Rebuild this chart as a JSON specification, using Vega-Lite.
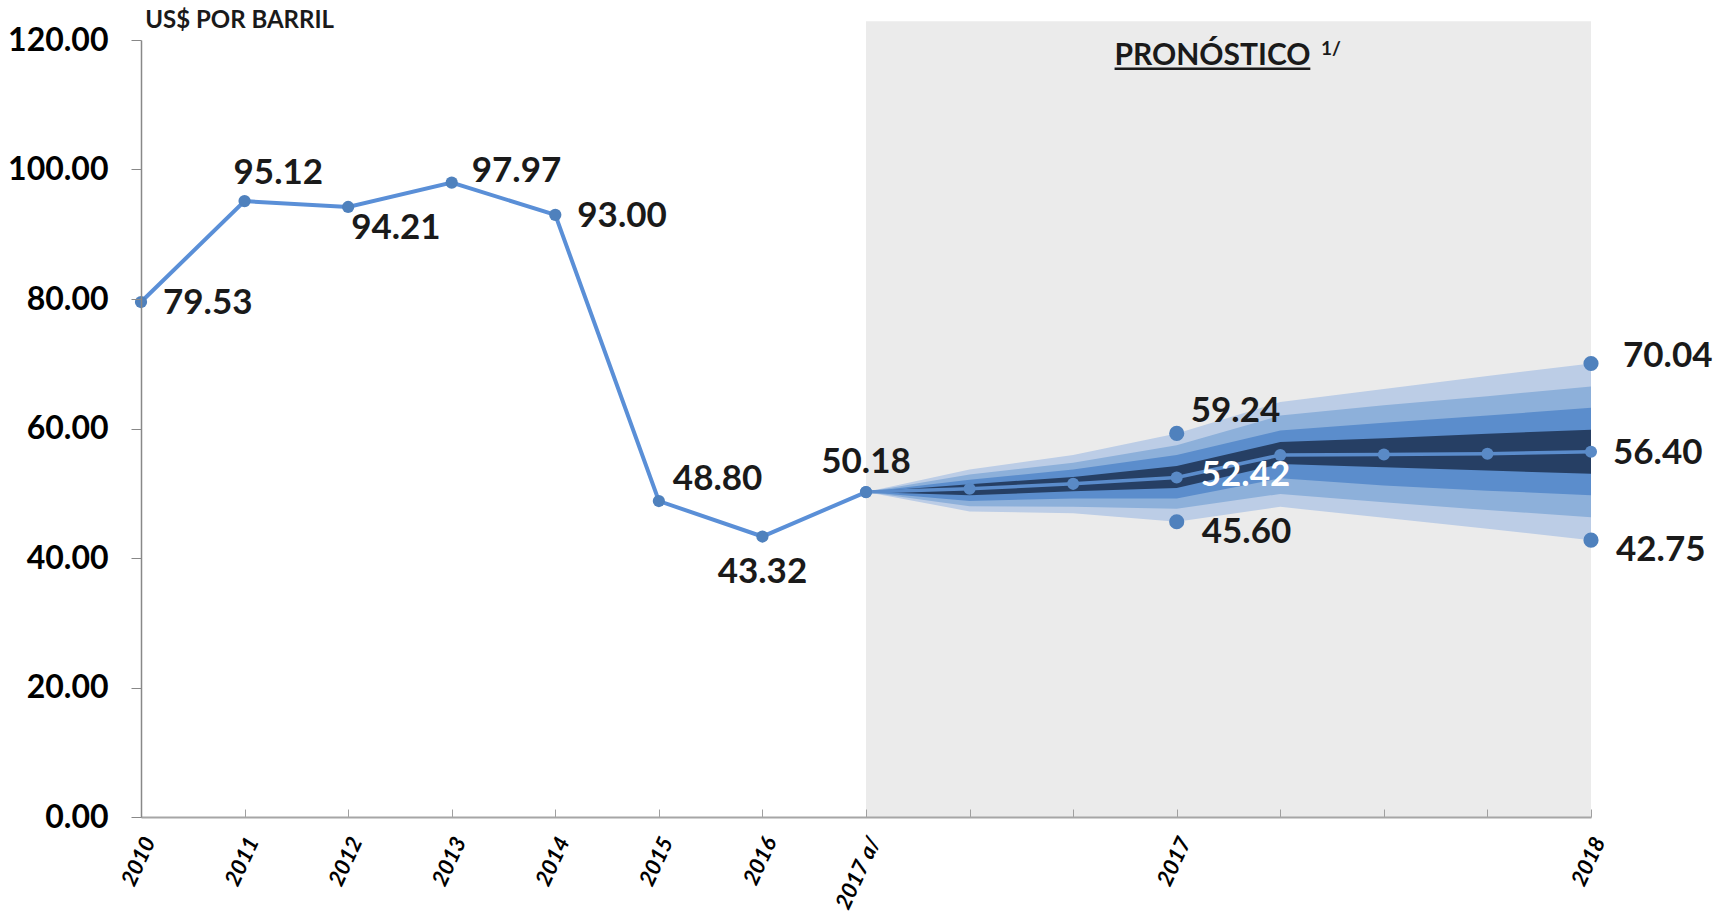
{
  "$schema": "https://vega.github.io/schema/vega-lite/v6.json",
  "width": 1450,
  "height": 777,
  "autosize": {"type": "none"},
  "padding": {"left": 141, "top": 40, "right": 142, "bottom": 97},
  "background": "#ffffff",
  "config": {"view": {"stroke": null}, "font": "Lato"},
  "datasets": {
    "hist": [
      {"i": 0, "v": 79.53}, {"i": 1, "v": 95.12}, {"i": 2, "v": 94.21}, {"i": 3, "v": 97.97},
      {"i": 4, "v": 93.00}, {"i": 5, "v": 48.80}, {"i": 6, "v": 43.32}, {"i": 7, "v": 50.18}
    ],
    "center": [
      {"i": 7, "v": 50.18}, {"i": 8, "v": 50.7}, {"i": 9, "v": 51.45}, {"i": 10, "v": 52.42},
      {"i": 11, "v": 55.9}, {"i": 12, "v": 56.0}, {"i": 13, "v": 56.1}, {"i": 14, "v": 56.40}
    ],
    "fan": [
      {"i": 7, "b4_lo": 50.18, "b4_hi": 50.18, "b3_lo": 50.18, "b3_hi": 50.18, "b2_lo": 50.18, "b2_hi": 50.18, "b1_lo": 50.18, "b1_hi": 50.18},
      {"i": 8, "b4_lo": 47.2, "b4_hi": 53.65, "b3_lo": 48.0, "b3_hi": 52.9, "b2_lo": 48.8, "b2_hi": 52.1, "b1_lo": 49.7, "b1_hi": 51.4},
      {"i": 9, "b4_lo": 46.9, "b4_hi": 55.9, "b3_lo": 47.9, "b3_hi": 54.7, "b2_lo": 49.2, "b2_hi": 53.65, "b1_lo": 50.3, "b1_hi": 52.5},
      {"i": 10, "b4_lo": 45.6, "b4_hi": 59.24, "b3_lo": 47.6, "b3_hi": 57.4, "b2_lo": 49.2, "b2_hi": 55.9, "b1_lo": 50.8, "b1_hi": 54.2},
      {"i": 11, "b4_lo": 47.9, "b4_hi": 64.1, "b3_lo": 49.9, "b3_hi": 62.0, "b2_lo": 52.3, "b2_hi": 59.7, "b1_lo": 54.5, "b1_hi": 57.9},
      {"i": 12, "b4_lo": 46.2, "b4_hi": 66.1, "b3_lo": 48.6, "b3_hi": 63.6, "b2_lo": 51.2, "b2_hi": 60.9, "b1_lo": 54.0, "b1_hi": 58.5},
      {"i": 13, "b4_lo": 44.5, "b4_hi": 68.1, "b3_lo": 47.4, "b3_hi": 65.0, "b2_lo": 50.4, "b2_hi": 62.0, "b1_lo": 53.5, "b1_hi": 59.2},
      {"i": 14, "b4_lo": 42.75, "b4_hi": 70.04, "b3_lo": 46.3, "b3_hi": 66.5, "b2_lo": 49.7, "b2_hi": 63.2, "b1_lo": 53.0, "b1_hi": 59.8}
    ],
    "labels": [
      {"id": "2010", "i": 0, "v": 79.53}, {"id": "2011", "i": 1, "v": 95.12}, {"id": "2012", "i": 2, "v": 94.21},
      {"id": "2013", "i": 3, "v": 97.97}, {"id": "2014", "i": 4, "v": 93.00}, {"id": "2015", "i": 5, "v": 48.80},
      {"id": "2016", "i": 6, "v": 43.32}, {"id": "2017a", "i": 7, "v": 50.18},
      {"id": "17hi", "i": 10, "v": 59.24}, {"id": "17mid", "i": 10, "v": 52.42}, {"id": "17lo", "i": 10, "v": 45.60},
      {"id": "18hi", "i": 14, "v": 70.04}, {"id": "18mid", "i": 14, "v": 56.40}, {"id": "18lo", "i": 14, "v": 42.75}
    ],
    "notes": [
      {"t": "PRONÓSTICO", "i": 10.345, "v": 116.2},
      {"t": "1/", "i": 11.49, "v": 118.6},
      {"t": "US$ POR BARRIL", "i": 0.04, "v": 121.8}
    ]
  },
  "layer": [
    {
      "data": {"name": "notes"},
      "transform": [{"filter": "datum.t == 'PRONÓSTICO'"}],
      "mark": {"type": "rect", "color": "#ebebeb"},
      "encoding": {
        "x": {"datum": 7, "type": "quantitative", "title": null},
        "x2": {"datum": 14},
        "y": {"datum": 0, "type": "quantitative", "title": null},
        "y2": {"datum": 122.9}
      }
    },
    {
      "data": {"name": "fan"},
      "mark": {"type": "area", "color": "#bccde6", "opacity": 1},
      "encoding": {
        "x": {"field": "i", "type": "quantitative", "title": null},
        "y": {"field": "b4_lo", "type": "quantitative", "title": null}, "y2": {"field": "b4_hi"}
      }
    },
    {
      "data": {"name": "fan"},
      "mark": {"type": "area", "color": "#8db0da", "opacity": 1},
      "encoding": {
        "x": {"field": "i", "type": "quantitative", "title": null},
        "y": {"field": "b3_lo", "type": "quantitative", "title": null}, "y2": {"field": "b3_hi"}
      }
    },
    {
      "data": {"name": "fan"},
      "mark": {"type": "area", "color": "#5b8dcc", "opacity": 1},
      "encoding": {
        "x": {"field": "i", "type": "quantitative", "title": null},
        "y": {"field": "b2_lo", "type": "quantitative", "title": null}, "y2": {"field": "b2_hi"}
      }
    },
    {
      "data": {"name": "fan"},
      "mark": {"type": "area", "color": "#263f64", "opacity": 1},
      "encoding": {
        "x": {"field": "i", "type": "quantitative", "title": null},
        "y": {"field": "b1_lo", "type": "quantitative", "title": null}, "y2": {"field": "b1_hi"}
      }
    },
    {
      "data": {"name": "center"},
      "mark": {"type": "line", "color": "#5b8ccb", "strokeWidth": 3.5},
      "encoding": {
        "x": {"field": "i", "type": "quantitative", "title": null},
        "y": {"field": "v", "type": "quantitative", "title": null}
      }
    },
    {
      "data": {"name": "center"},
      "mark": {"type": "circle", "color": "#5a8ac6", "size": 145, "opacity": 1},
      "encoding": {
        "x": {"field": "i", "type": "quantitative", "title": null},
        "y": {"field": "v", "type": "quantitative", "title": null}
      }
    },
    {
      "data": {"name": "hist"},
      "mark": {"type": "line", "color": "#5a8fd7", "strokeWidth": 4},
      "encoding": {
        "x": {
          "field": "i", "type": "quantitative",
          "scale": {"domain": [0, 14], "nice": false, "zero": false},
          "axis": {
            "title": null, "values": [0, 1, 2, 3, 4, 5, 6, 7, 8, 9, 10, 11, 12, 13, 14],
            "labelExpr": "datum.value == 0 ? '2010' : datum.value == 1 ? '2011' : datum.value == 2 ? '2012' : datum.value == 3 ? '2013' : datum.value == 4 ? '2014' : datum.value == 5 ? '2015' : datum.value == 6 ? '2016' : datum.value == 7 ? '2017 a/' : datum.value == 10 ? '2017' : datum.value == 14 ? '2018' : ''",
            "grid": false, "zindex": 1,
            "tickSize": -8, "tickColor": "#a0a0a0", "tickWidth": 1,
            "domainColor": "#a6a6a6", "domainWidth": 2,
            "labelAngle": -65, "labelAlign": "right", "labelBaseline": "middle",
            "labelFont": "Lato", "labelFontSize": 22, "labelFontWeight": "bold", "labelFontStyle": "italic",
            "labelColor": "#000000", "labelPadding": 29, "labelOffset": 8,
            "labelOverlap": false, "labelFlush": false, "labelBound": false
          }
        },
        "y": {
          "field": "v", "type": "quantitative",
          "scale": {"domain": [0, 120], "nice": false},
          "axis": {
            "title": null, "values": [0, 20, 40, 60, 80, 100, 120], "format": ".2f",
            "grid": false, "zindex": 1,
            "tickSize": 10, "tickColor": "#888888", "domainColor": "#888888", "domainWidth": 1.5,
            "labelFont": "Lato", "labelFontSize": 32, "labelFontWeight": "bold", "labelColor": "#000000",
            "labelPadding": 23
          }
        }
      }
    },
    {
      "data": {"name": "hist"},
      "mark": {"type": "circle", "color": "#4f81bd", "size": 150, "opacity": 1},
      "encoding": {
        "x": {"field": "i", "type": "quantitative", "title": null},
        "y": {"field": "v", "type": "quantitative", "title": null}
      }
    },
    {
      "data": {"name": "labels"},
      "transform": [{"filter": {"field": "id", "oneOf": ["17hi", "17lo", "18hi", "18lo"]}}],
      "mark": {"type": "circle", "color": "#4f81bd", "size": 230, "opacity": 1},
      "encoding": {
        "x": {"field": "i", "type": "quantitative", "title": null},
        "y": {"field": "v", "type": "quantitative", "title": null}
      }
    },
    {
      "data": {"name": "labels"},
      "transform": [{"filter": {"field": "id", "oneOf": ["2010", "2014", "18mid"]}}],
      "mark": {"type": "text", "align": "left", "baseline": "middle", "dx": 22, "dy": 1, "font": "Lato", "fontSize": 35, "fontWeight": "bold", "color": "#1a1a1a"},
      "encoding": {
        "x": {"field": "i", "type": "quantitative", "title": null},
        "y": {"field": "v", "type": "quantitative", "title": null},
        "text": {"field": "v", "type": "quantitative", "format": ".2f"}
      }
    },
    {
      "data": {"name": "labels"},
      "transform": [{"filter": {"field": "id", "oneOf": ["17mid"]}}],
      "mark": {"type": "text", "align": "left", "baseline": "middle", "dx": 24, "dy": -3, "font": "Lato", "fontSize": 35, "fontWeight": "bold", "color": "#ffffff"},
      "encoding": {
        "x": {"field": "i", "type": "quantitative", "title": null},
        "y": {"field": "v", "type": "quantitative", "title": null},
        "text": {"field": "v", "type": "quantitative", "format": ".2f"}
      }
    },
    {
      "data": {"name": "labels"},
      "transform": [{"filter": {"field": "id", "oneOf": ["17lo", "18lo"]}}],
      "mark": {"type": "text", "align": "left", "baseline": "middle", "dx": 25, "dy": 10, "font": "Lato", "fontSize": 35, "fontWeight": "bold", "color": "#1a1a1a"},
      "encoding": {
        "x": {"field": "i", "type": "quantitative", "title": null},
        "y": {"field": "v", "type": "quantitative", "title": null},
        "text": {"field": "v", "type": "quantitative", "format": ".2f"}
      }
    },
    {
      "data": {"name": "labels"},
      "transform": [{"filter": {"field": "id", "oneOf": ["2013"]}}],
      "mark": {"type": "text", "align": "left", "baseline": "middle", "dx": 20, "dy": -12, "font": "Lato", "fontSize": 35, "fontWeight": "bold", "color": "#1a1a1a"},
      "encoding": {
        "x": {"field": "i", "type": "quantitative", "title": null},
        "y": {"field": "v", "type": "quantitative", "title": null},
        "text": {"field": "v", "type": "quantitative", "format": ".2f"}
      }
    },
    {
      "data": {"name": "labels"},
      "transform": [{"filter": {"field": "id", "oneOf": ["18hi"]}}],
      "mark": {"type": "text", "align": "left", "baseline": "middle", "dx": 32, "dy": -7, "font": "Lato", "fontSize": 35, "fontWeight": "bold", "color": "#1a1a1a"},
      "encoding": {
        "x": {"field": "i", "type": "quantitative", "title": null},
        "y": {"field": "v", "type": "quantitative", "title": null},
        "text": {"field": "v", "type": "quantitative", "format": ".2f"}
      }
    },
    {
      "data": {"name": "labels"},
      "transform": [{"filter": {"field": "id", "oneOf": ["2011"]}}],
      "mark": {"type": "text", "align": "left", "baseline": "middle", "dx": -11, "dy": -28, "font": "Lato", "fontSize": 35, "fontWeight": "bold", "color": "#1a1a1a"},
      "encoding": {
        "x": {"field": "i", "type": "quantitative", "title": null},
        "y": {"field": "v", "type": "quantitative", "title": null},
        "text": {"field": "v", "type": "quantitative", "format": ".2f"}
      }
    },
    {
      "data": {"name": "labels"},
      "transform": [{"filter": {"field": "id", "oneOf": ["2015", "17hi"]}}],
      "mark": {"type": "text", "align": "left", "baseline": "middle", "dx": 14, "dy": -22, "font": "Lato", "fontSize": 35, "fontWeight": "bold", "color": "#1a1a1a"},
      "encoding": {
        "x": {"field": "i", "type": "quantitative", "title": null},
        "y": {"field": "v", "type": "quantitative", "title": null},
        "text": {"field": "v", "type": "quantitative", "format": ".2f"}
      }
    },
    {
      "data": {"name": "labels"},
      "transform": [{"filter": {"field": "id", "oneOf": ["2012"]}}],
      "mark": {"type": "text", "align": "left", "baseline": "middle", "dx": 3, "dy": 21, "font": "Lato", "fontSize": 35, "fontWeight": "bold", "color": "#1a1a1a"},
      "encoding": {
        "x": {"field": "i", "type": "quantitative", "title": null},
        "y": {"field": "v", "type": "quantitative", "title": null},
        "text": {"field": "v", "type": "quantitative", "format": ".2f"}
      }
    },
    {
      "data": {"name": "labels"},
      "transform": [{"filter": {"field": "id", "oneOf": ["2016"]}}],
      "mark": {"type": "text", "align": "center", "baseline": "middle", "dy": 35, "font": "Lato", "fontSize": 35, "fontWeight": "bold", "color": "#1a1a1a"},
      "encoding": {
        "x": {"field": "i", "type": "quantitative", "title": null},
        "y": {"field": "v", "type": "quantitative", "title": null},
        "text": {"field": "v", "type": "quantitative", "format": ".2f"}
      }
    },
    {
      "data": {"name": "labels"},
      "transform": [{"filter": {"field": "id", "oneOf": ["2017a"]}}],
      "mark": {"type": "text", "align": "center", "baseline": "middle", "dy": -30, "font": "Lato", "fontSize": 35, "fontWeight": "bold", "color": "#1a1a1a"},
      "encoding": {
        "x": {"field": "i", "type": "quantitative", "title": null},
        "y": {"field": "v", "type": "quantitative", "title": null},
        "text": {"field": "v", "type": "quantitative", "format": ".2f"}
      }
    },
    {
      "data": {"name": "notes"},
      "transform": [{"filter": "datum.t == 'PRONÓSTICO'"}],
      "mark": {"type": "text", "align": "center", "baseline": "alphabetic", "font": "Lato", "fontSize": 30, "fontWeight": "bold", "color": "#1a1a1a"},
      "encoding": {
        "x": {"field": "i", "type": "quantitative", "title": null},
        "y": {"field": "v", "type": "quantitative", "title": null},
        "text": {"field": "t"}
      }
    },
    {
      "data": {"name": "notes"},
      "transform": [{"filter": "datum.t == 'US$ POR BARRIL'"}],
      "mark": {"type": "text", "align": "left", "baseline": "alphabetic", "font": "Lato", "fontSize": 24, "fontWeight": "bold", "color": "#1a1a1a"},
      "encoding": {
        "x": {"field": "i", "type": "quantitative", "title": null},
        "y": {"field": "v", "type": "quantitative", "title": null},
        "text": {"field": "t"}
      }
    },
    {
      "data": {"name": "notes"},
      "transform": [{"filter": "datum.t == '1/'"}],
      "mark": {"type": "text", "align": "center", "baseline": "middle", "font": "Lato", "fontSize": 19, "fontWeight": "bold", "color": "#1a1a1a"},
      "encoding": {
        "x": {"field": "i", "type": "quantitative", "title": null},
        "y": {"field": "v", "type": "quantitative", "title": null},
        "text": {"field": "t"}
      }
    },
    {
      "data": {"name": "notes"},
      "transform": [{"filter": "datum.t == 'PRONÓSTICO'"}],
      "mark": {"type": "rule", "color": "#1a1a1a", "strokeWidth": 2.5},
      "encoding": {
        "x": {"datum": 9.40, "type": "quantitative", "title": null},
        "x2": {"datum": 11.29},
        "y": {"datum": 115.55, "type": "quantitative", "title": null}
      }
    }
  ]
}
